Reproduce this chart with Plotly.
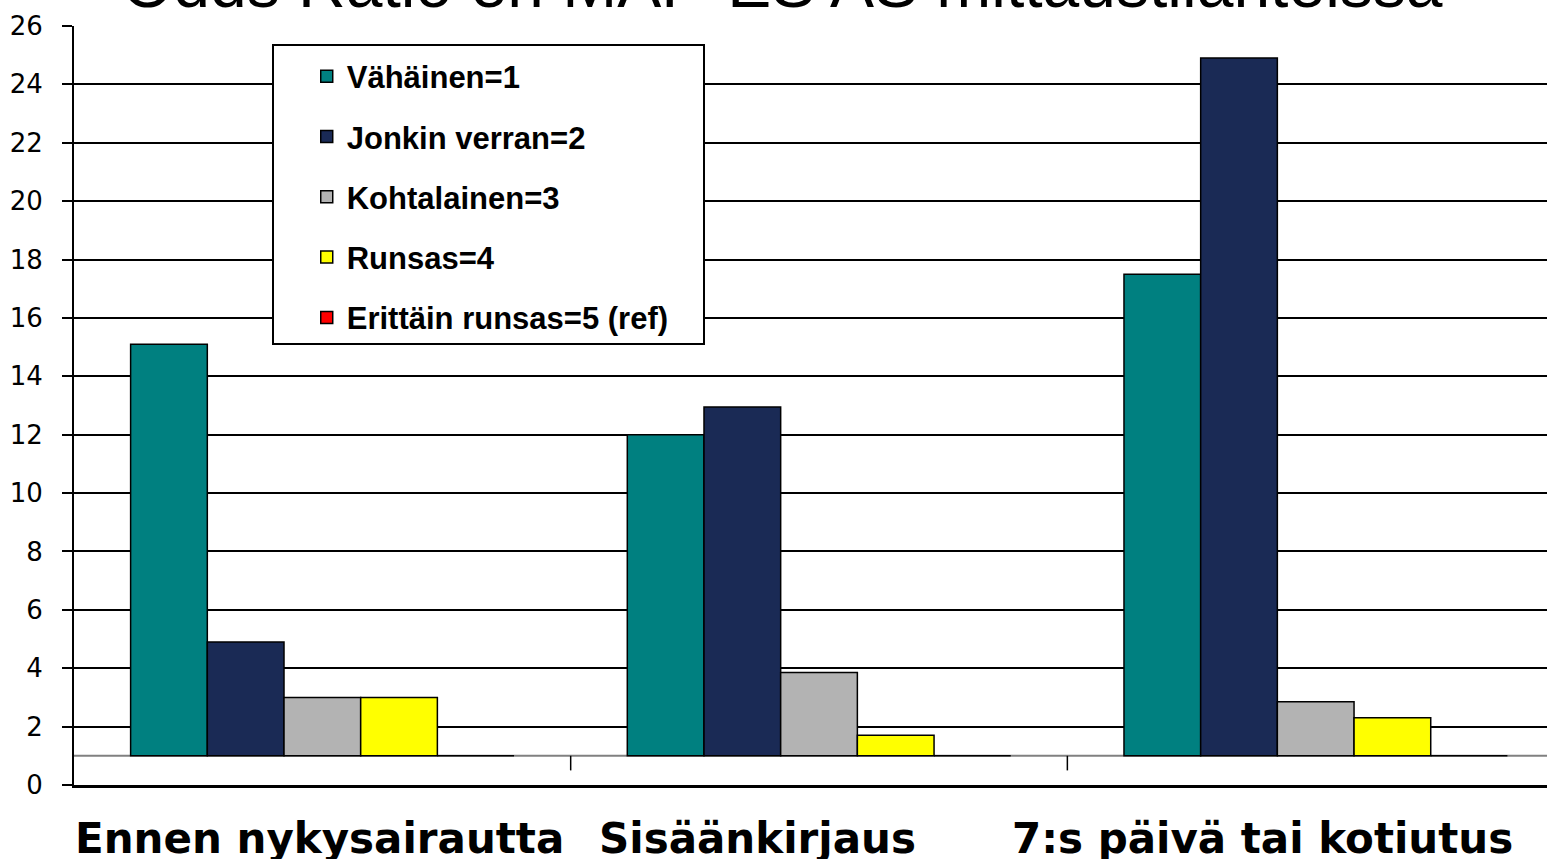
import plotly.graph_objects as go

categories = ["Ennen nykysairautta", "Sisäänkirjaus", "7:s päivä tai kotiutus"]
series_names = ["Vähäinen=1", "Jonkin verran=2", "Kohtalainen=3", "Runsas=4", "Erittäin runsas=5 (ref)"]
vahainen = [15.1, 12.0, 17.5]
jonkin_verran = [4.9, 12.95, 24.9]
kohtalainen = [3.0, 3.85, 2.85]
runsas = [3.0, 1.7, 2.3]
erittain_runsas = [1.0, 1.0, 1.0]
colors = ["#008080", "#1a2a55", "#b3b3b3", "#ffff00", "#ff0000"]
y_ticks = list(range(0, 27, 2))
reference_level = 1.0
title_text = "Odds Ratio eri MAP-ES AS mittaustilanteissa"
label_offsets = [-0.005, -0.124, -0.107]

series_values = [vahainen, jonkin_verran, kohtalainen, runsas, erittain_runsas]
xs = list(range(len(categories)))

fig = go.Figure()
for i, (name, vals, col) in enumerate(zip(series_names, series_values, colors)):
    fig.add_trace(go.Bar(
        x=xs,
        y=[v - reference_level for v in vals],
        base=reference_level,
        name=name,
        legendgroup=f"g{i}",
        marker=dict(color=col, line=dict(color="black", width=1.5)),
    ))

annotations = [dict(
    text=title_text, xref="paper", yref="paper", x=0.4807, y=1.0, yshift=3,
    xanchor="center", yanchor="bottom", showarrow=False,
    font=dict(family="Liberation Sans, Arial", size=66, color="black"),
)]
for i, (cat, off) in enumerate(zip(categories, label_offsets)):
    annotations.append(dict(
        text=f"<b>{cat}</b>", xref="x", yref="paper", x=i + off, y=-0.036,
        xanchor="center", yanchor="top", showarrow=False,
        font=dict(family="DejaVu Sans", size=42, color="black"),
    ))

shapes = [
    dict(type="line", xref="paper", yref="y", x0=0, x1=1, y0=reference_level, y1=reference_level,
         line=dict(color="#808080", width=2), layer="between"),
    dict(type="rect", xref="paper", yref="paper", x0=0.1351, x1=0.4277, y0=0.581, y1=0.975,
         fillcolor="white", line=dict(color="black", width=2), layer="above"),
]
for d in [0.5, 1.5]:
    shapes.append(dict(type="line", xref="x", yref="y", x0=d, x1=d, y0=reference_level, y1=0.5,
                       line=dict(color="black", width=1.5), layer="above"))

fig.update_layout(
    width=1547, height=859,
    margin=dict(l=74, r=0, t=26, b=74, autoexpand=False),
    paper_bgcolor="white", plot_bgcolor="white",
    barmode="group", bargap=0.228, bargroupgap=0,
    showlegend=True,
    legend=dict(
        x=0.158, y=0.969, xanchor="left", yanchor="top",
        bgcolor="rgba(0,0,0,0)", borderwidth=0,
        font=dict(family="Liberation Sans, Arial", size=31, color="black", weight="bold"),
        traceorder="grouped", tracegroupgap=17,
    ),
    xaxis=dict(
        range=[-0.5, 2.4657], showticklabels=False, ticks="", showgrid=False,
        zeroline=False, showline=True, linecolor="black", linewidth=3,
        fixedrange=True, automargin=False,
    ),
    yaxis=dict(
        range=[0, 26], tickvals=y_ticks, ticks="outside", ticklen=10, tickwidth=2,
        tickcolor="black", ticklabelstandoff=14, automargin=False,
        tickfont=dict(family="DejaVu Sans", size=26, color="black"),
        showgrid=True, gridcolor="black", gridwidth=2,
        zeroline=False, showline=True, linecolor="black", linewidth=2,
    ),
    annotations=annotations,
    shapes=shapes,
)

fig.write_html("out.html", config={"displayModeBar": False},
               post_script="document.body.style.margin='0';")
